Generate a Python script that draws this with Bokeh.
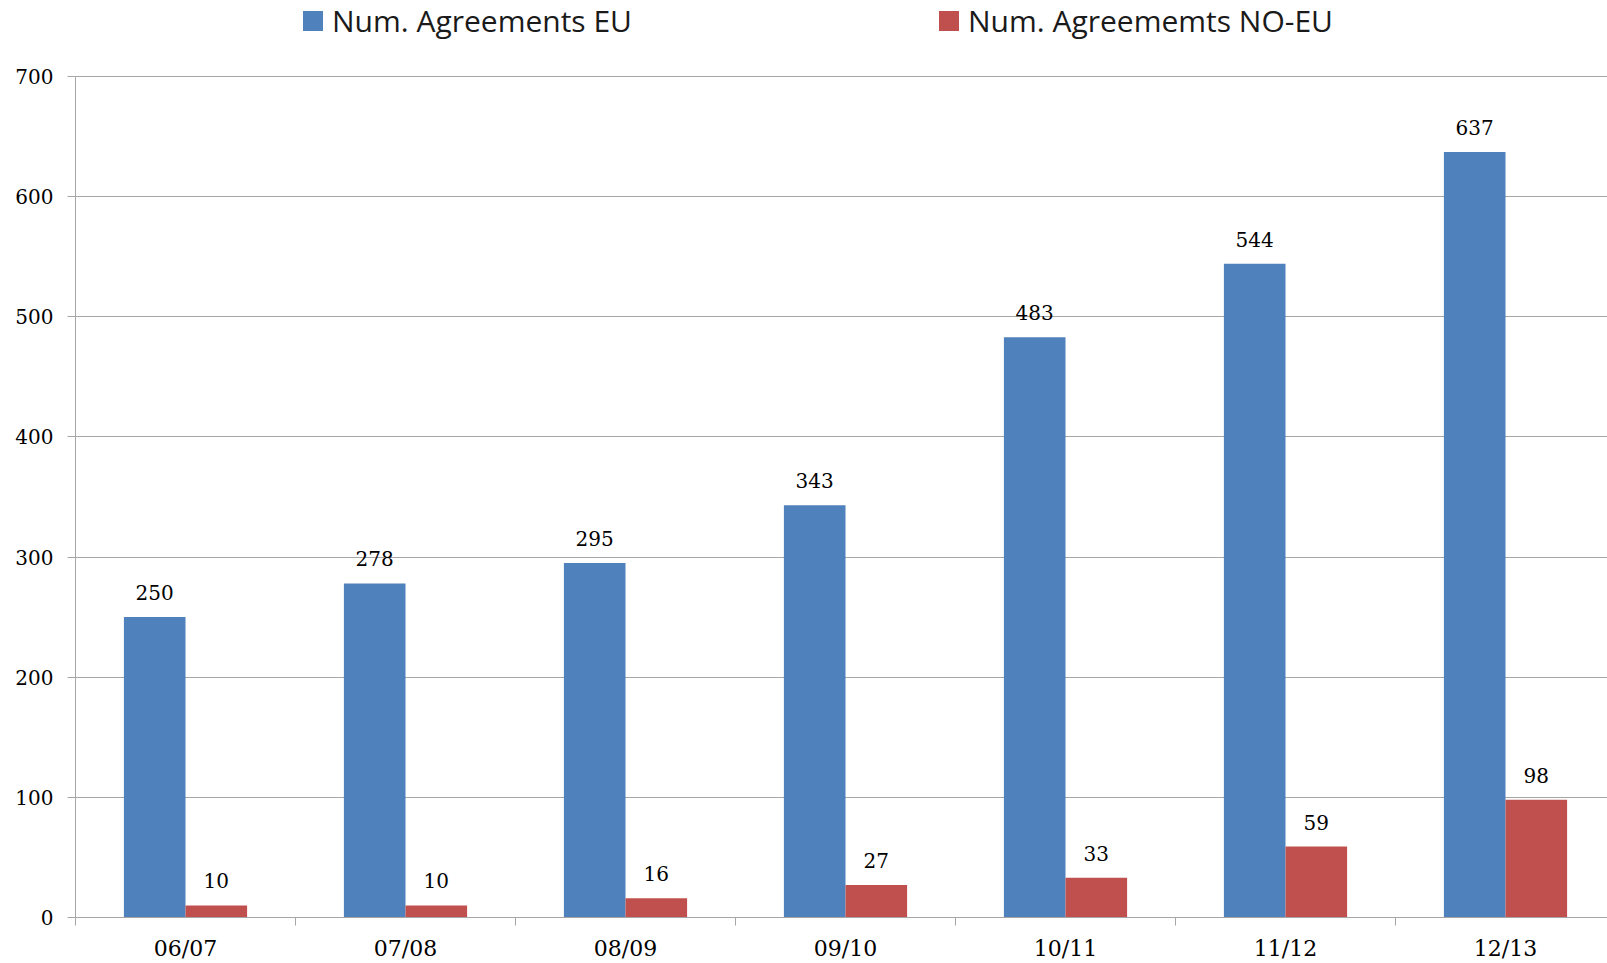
import numpy as np
from bokeh.plotting import figure
from bokeh.models import (Range1d, FixedTicker, ColumnDataSource, LabelSet, Legend, LegendItem)
from bokeh.embed import file_html
from bokeh.resources import INLINE
from bokeh.core.properties import value

categories = ["06/07", "07/08", "08/09", "09/10", "10/11", "11/12", "12/13"]
eu_values = [250, 278, 295, 343, 483, 544, 637]
noeu_values = [10, 10, 16, 27, 33, 59, 98]
y_ticks = [0, 100, 200, 300, 400, 500, 600, 700]
series_names = ["Num. Agreements EU", "Num. Agreememts NO-EU"]

BLUE = "#4F81BD"
RED = "#C0504D"
GRID = "#A6A6A6"
SERIF = "DejaVu Serif"

n = len(categories)
centers = np.arange(n) + 0.5
bw = 0.28

# frame spans page y 0..918 ; value 700 sits at y=76
Y_TOP = 700 * 918 / 842

p = figure(width=1607, height=963, output_backend="svg", toolbar_location=None,
           x_range=Range1d(0, 1532 / 220), y_range=Range1d(0, Y_TOP),
           min_border_left=75, min_border_right=0, min_border_top=0, min_border_bottom=40)
p.outline_line_color = None
p.background_fill_color = "white"
p.border_fill_color = "white"

src = ColumnDataSource(dict(
    x=centers, eu=eu_values, noeu=noeu_values,
    eu_lbl=[str(v) for v in eu_values], noeu_lbl=[str(v) for v in noeu_values],
    xe=centers - bw / 2, xn=centers + bw / 2,
))

r_eu = p.vbar(x="xe", top="eu", width=bw, bottom=0, source=src, fill_color=BLUE, line_color=None)
r_no = p.vbar(x="xn", top="noeu", width=bw, bottom=0, source=src, fill_color=RED, line_color=None)

for xcol, ycol, tcol in [("xe", "eu", "eu_lbl"), ("xn", "noeu", "noeu_lbl")]:
    p.add_layout(LabelSet(x=xcol, y=ycol, text=tcol, source=src, text_align="center",
                          text_baseline="alphabetic", y_offset=17,
                          text_font=value(SERIF), text_font_size="20px", text_color="black"))

# axes
p.xaxis.ticker = FixedTicker(ticks=list(centers), minor_ticks=list(np.arange(n + 1)))
p.xaxis.major_label_overrides = {float(c): lab for c, lab in zip(centers, categories)}
p.xaxis.major_tick_out = 0
p.xaxis.major_tick_in = 0
p.xaxis.minor_tick_out = 8
p.xaxis.minor_tick_in = 0
p.xaxis.minor_tick_line_color = GRID
p.xaxis.axis_line_color = GRID
p.xaxis.major_label_text_font = SERIF
p.xaxis.major_label_text_font_size = "22px"
p.xaxis.major_label_text_color = "black"
p.xaxis.major_label_standoff = 10

p.yaxis.ticker = FixedTicker(ticks=y_ticks)
p.yaxis.bounds = (0, 700)
p.yaxis.minor_tick_line_color = None
p.yaxis.major_tick_out = 8
p.yaxis.major_tick_in = 0
p.yaxis.major_tick_line_color = GRID
p.yaxis.axis_line_color = GRID
p.yaxis.major_label_text_font = SERIF
p.yaxis.major_label_text_font_size = "20px"
p.yaxis.major_label_text_color = "black"
p.yaxis.major_label_standoff = 14

p.xgrid.grid_line_color = None
p.ygrid.grid_line_color = GRID
p.ygrid.grid_line_width = 1

legend = Legend(items=[LegendItem(label=series_names[0], renderers=[r_eu]),
                       LegendItem(label=series_names[1], renderers=[r_no])],
                orientation="horizontal", location=(225, 876),
                padding=0, margin=0, spacing=304, label_standoff=7,
                glyph_width=25, glyph_height=25, label_height=25,
                label_text_font="Open Sans", label_text_font_size="30px", label_text_color="#1a1a1a",
                border_line_color=None, background_fill_alpha=0)
p.add_layout(legend, "center")

open("out.html", "w").write(file_html(p, INLINE))
